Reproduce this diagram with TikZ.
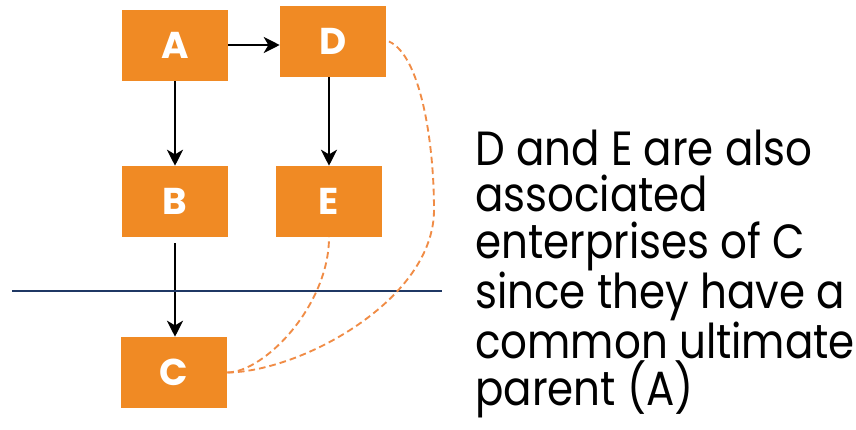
\documentclass[tikz,border=0pt]{standalone}
\usepackage{fontspec}
\setmainfont{Poppins}
\newfontfamily\notefont[FakeStretch=0.875]{Poppins}
\usetikzlibrary{arrows.meta}
\definecolor{boxorange}{RGB}{240,138,36}
\definecolor{dashorange}{RGB}{240,140,70}
\definecolor{navy}{RGB}{31,56,100}
\tikzset{
  entity/.style={fill=boxorange, draw=none, minimum width=79.5pt, minimum height=53.25pt,
    inner sep=0pt, text=white, font=\fontsize{28}{28}\selectfont\bfseries},
  link/.style={draw=black, line width=2pt, -{Stealth[length=12pt,width=12pt,inset=3.5pt]}},
  assoc/.style={draw=dashorange, line width=1.4pt, dash pattern=on 5pt off 3pt},
}
\begin{document}
\begin{tikzpicture}[x=0.75pt, y=-0.75pt]
\useasboundingbox (0,0) rectangle (856,429);
\node[entity] (A) at (175,45.5) {A};
\node[entity] (D) at (333,41.5) {D};
\node[entity] (B) at (175,201.5) {B};
\node[entity] (E) at (329,201.5) {E};
\node[entity] (C) at (174,372.5) {C};
\draw[link] (A.east |- 0,45) -- (D.west |- 0,45);
\draw[link] (A.south) -- (B.north);
\draw[link] (E.north |- D.south) -- (E.north);
\draw[link] ([yshift=-4.5pt]B.south) -- (B.south |- C.north);
\draw[navy, line width=1.6pt] (12,291) -- (442,291);
\coordinate (m) at (434,210);
\draw[assoc] (C.east) .. controls (265,372) and (329,305) .. (E.south);
\draw[assoc] (C.east) .. controls (300,372) and (434,300) .. (m)
  .. controls (434,140) and (420,55) .. ([xshift=2pt]D.east);
\node[anchor=base west, align=left, font=\notefont\fontsize{36}{34.8}\selectfont, inner sep=0pt] (T) at (475,405)
  {D and E are also\\associated\\enterprises of C\\since they have a\\common ultimate\\parent (A)};
\end{tikzpicture}
\end{document}
